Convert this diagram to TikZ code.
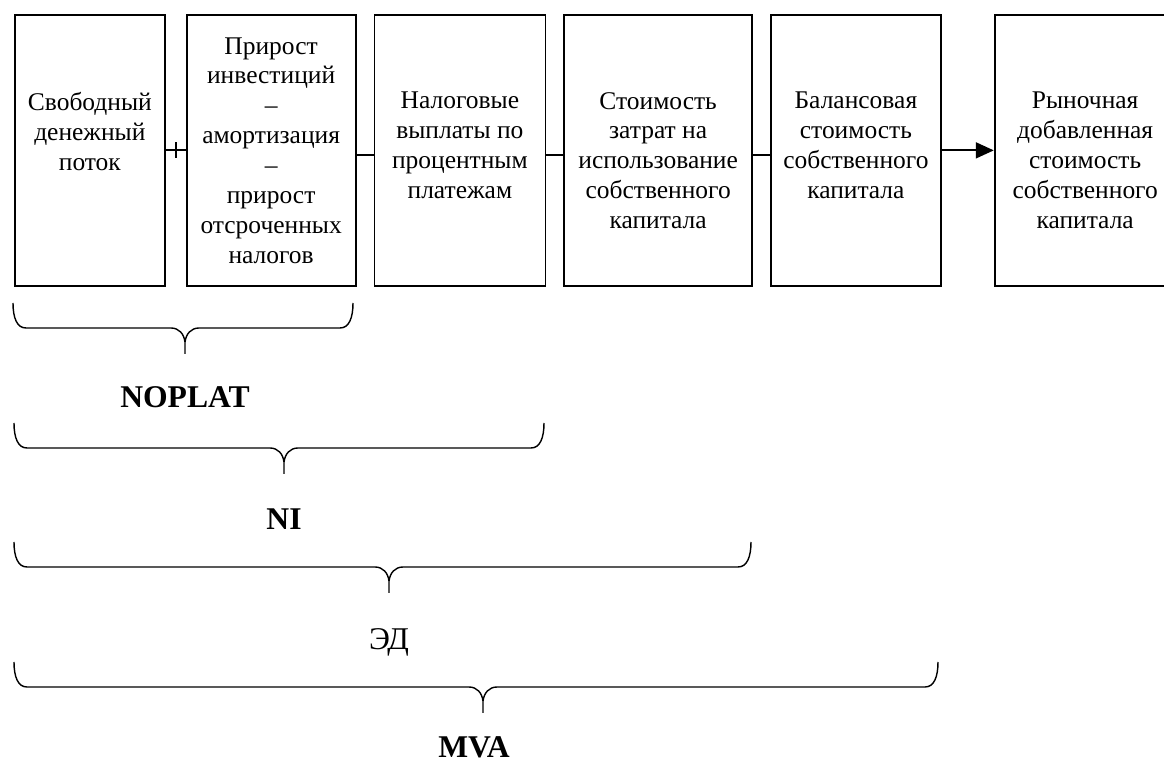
\documentclass[tikz,border=0pt]{standalone}
\usepackage{fontspec}
\setmainfont{Liberation Serif}
\usetikzlibrary{arrows.meta, positioning}

\newcommand\boxfont{\fontsize{14.5}{17}\selectfont}
\newcommand\lblfont{\fontsize{18}{20}\selectfont}
\newcommand\curlybrace[5]{%
  \draw[brc] (#1,#4) .. controls (#1,{#4-0.3}) and ({#1+0.08},{#4-0.5}) .. ({#1+0.26},{#4-0.5})
    -- ({#3-0.28},{#4-0.5}) .. controls ({#3-0.12},{#4-0.5}) and ({#3-0.02},{#4-0.62}) .. (#3,{#4-0.78})
    -- (#3,{#4-1.02}) coordinate (#5);
  \draw[brc] (#2,#4) .. controls (#2,{#4-0.3}) and ({#2-0.08},{#4-0.5}) .. ({#2-0.26},{#4-0.5})
    -- ({#3+0.28},{#4-0.5}) .. controls ({#3+0.12},{#4-0.5}) and ({#3+0.02},{#4-0.62}) .. (#3,{#4-0.78});
}

\begin{document}
\begin{tikzpicture}[
  node distance=0.34cm,
  stg/.style={draw, line width=1pt, inner sep=0pt, font=\boxfont,
    execute at begin node={\begin{minipage}[c][5.42cm][t]{#1}\centering\vspace*{44pt}},
    execute at end node={\end{minipage}}},
  stgmid/.style={draw, line width=1pt, inner sep=0pt, font=\boxfont,
    execute at begin node={\begin{minipage}[c][5.42cm][c]{#1}\centering},
    execute at end node={\end{minipage}}},
  conn/.style={draw, line width=1pt},
  brc/.style={line width=0.8pt},
  lbl/.style={inner sep=0pt, font=\lblfont\bfseries}
]
  \useasboundingbox (0,0) rectangle (23.28,-15.34);
  \node[stg=3.0cm, anchor=north west] (b1) at (0.28,-0.28) {Свободный\\денежный\\поток};
  \node[stgmid=3.38cm, right=0.4cm of b1] (b2) {Прирост\\инвестиций\\–\\амортизация\\–\\прирост\\отсроченных\\налогов};
  \node[stg=3.42cm, right=of b2] (b3) {Налоговые\\выплаты по\\процентным\\платежам};
  \node[stg=3.76cm, right=of b3] (b4) {Стоимость\\затрат на\\использование\\собственного\\капитала};
  \node[stg=3.4cm, right=of b4] (b5) {Балансовая\\стоимость\\собственного\\капитала};
  \node[stg=3.62cm, right=1.04cm of b5] (b6) {Рыночная\\добавленная\\стоимость\\собственного\\капитала};
  \draw[conn] (b1) -- coordinate (plus) (b2);
  \draw[conn] ([yshift=0.16cm]plus) -- ([yshift=-0.16cm]plus);
  \draw[conn] ([yshift=-0.1cm]b2.east) -- ([yshift=-0.1cm]b3.west);
  \draw[conn] ([yshift=-0.1cm]b3.east) -- ([yshift=-0.1cm]b4.west);
  \draw[conn] ([yshift=-0.1cm]b4.east) -- ([yshift=-0.1cm]b5.west);
  \draw[conn, -{Triangle[length=0.36cm, width=0.32cm]}] (b5) -- (b6);
  \curlybrace{0.26}{7.06}{3.70}{-6.06}{tip1}
  \curlybrace{0.28}{10.88}{5.68}{-8.46}{tip2}
  \curlybrace{0.28}{15.02}{7.78}{-10.84}{tip3}
  \curlybrace{0.28}{18.76}{9.66}{-13.24}{tip4}
  \node[lbl, below=0.64cm of tip1] (noplat) {NOPLAT};
  \node[lbl, below=0.68cm of tip2] (ni) {NI};
  \node[lbl, font=\lblfont, below=0.7cm of tip3] (ed) {ЭД};
  \node[lbl, below=0.46cm of tip4, xshift=-0.18cm] (mva) {MVA};
\end{tikzpicture}
\end{document}
